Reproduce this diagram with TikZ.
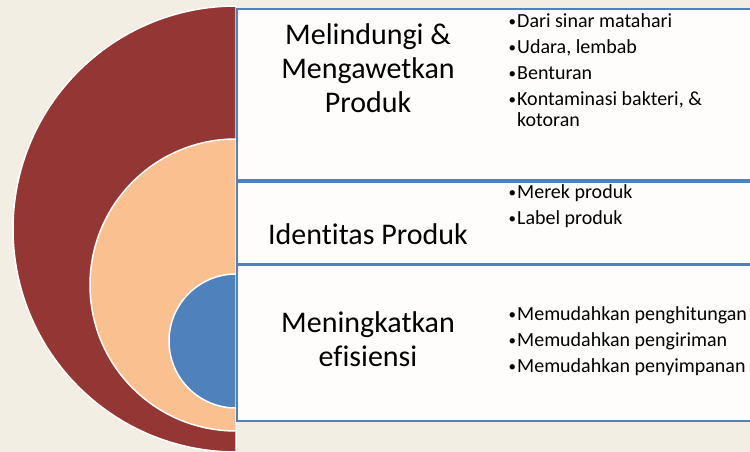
\documentclass[tikz,border=0pt]{standalone}
\usepackage{fontspec}
\setmainfont{Carlito}[Ligatures=NoCommon]
\usetikzlibrary{positioning}
\definecolor{wine}{HTML}{943634}
\definecolor{peach}{HTML}{FAC090}
\definecolor{steel}{HTML}{4F81BD}
\definecolor{paper}{HTML}{F3EEE4}
\newcommand{\itm}{\makebox[8.5pt][l]{\raisebox{1.2pt}{\fontsize{15}{15}\selectfont\textbullet}}}
\newcommand{\cnt}{\hspace{8.5pt}}
\begin{document}
\begin{tikzpicture}[x=1pt,y=1pt,
   ring/.style={draw=white,line width=1.5pt},
   panel/.style={draw=steel,line width=2pt,fill=white,fill opacity=.92,
                 minimum width=530pt,inner sep=0pt,anchor=north west},
   title/.style={align=center,font=\fontsize{30}{34}\selectfont,inner sep=0pt,anchor=base},
   points/.style={align=left,font=\fontsize{20}{21}\selectfont,inner sep=0pt,anchor=base west}]
   \useasboundingbox[fill=paper] (0,0) rectangle (750,452);
   % half discs
   \fill[wine,ring]  (236,446) arc[start angle=90,end angle=270,radius=223] -- cycle;
   \fill[peach,ring] (236,313) arc[start angle=90,end angle=270,radius=146] -- cycle;
   \fill[steel,ring] (236,178) arc[start angle=90,end angle=270,radius=67] -- cycle;
   % panels
   \node[panel,minimum height=171pt] (protect) at (236,444) {};
   \node[panel,minimum height=82pt]  (ident)   at (236,271) {};
   \node[panel,minimum height=156pt] (effic)   at (236,188) {};
   % titles (base = last line)
   \node[title] (protectT) at (368,339) {Melindungi \&\\Mengawetkan\\Produk};
   \node[title] (identT)   at (368,207) {Identitas Produk};
   \node[title] (efficT)   at (368,85)  {Meningkatkan\\efisiensi};
   % bullet lists
   \node[points] (protectL) at (508.5,325) {\itm Dari sinar matahari\\[5pt]
      \itm Udara, lembab\\[5pt]\itm Benturan\\[5pt]
      \itm Kontaminasi bakteri, \&\\\cnt kotoran};
   \node[points] (identL) at (508.5,227) {\itm Merek produk\\[5pt]\itm Label produk};
   \node[points] (efficL) at (508.5,79) {\itm Memudahkan penghitungan\\[5pt]
      \itm Memudahkan pengiriman\\[5pt]\itm Memudahkan penyimpanan};
\end{tikzpicture}
\end{document}
